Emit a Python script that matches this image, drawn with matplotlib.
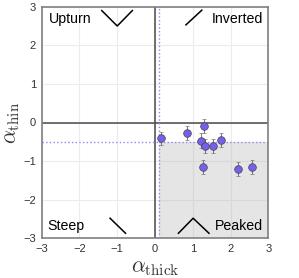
import matplotlib
matplotlib.use('Agg')
import matplotlib.pyplot as plt

plt.rcParams['font.family'] = ['Liberation Sans', 'DejaVu Sans']
plt.rcParams['mathtext.fontset'] = 'cm'

alpha_thick = [0.15, 0.84, 1.29, 1.21, 1.32, 1.54, 1.76, 1.27, 2.19, 2.57]
alpha_thin = [-0.41, -0.28, -0.08, -0.47, -0.60, -0.62, -0.46, -1.15, -1.21, -1.15]
thin_err = [0.17, 0.18, 0.18, 0.20, 0.18, 0.18, 0.18, 0.18, 0.18, 0.18]
thick_err = [0.04, 0.04, 0.04, 0.04, 0.04, 0.04, 0.04, 0.04, 0.04, 0.04]

# Quadrant sketches
upturn_x, upturn_y = [-1.41, -1.0, -0.6], [2.9, 2.5, 2.9]
inverted_x, inverted_y = [0.82, 1.24], [2.53, 2.91]
steep_x, steep_y = [-1.19, -0.78], [-2.48, -2.87]
peaked_x, peaked_y = [0.62, 1.01, 1.43], [-2.87, -2.48, -2.87]

ticks = [-3, -2, -1, 0, 1, 2, 3]
tick_labels = ['\u22123', '\u22122', '\u22121', '0', '1', '2', '3']

fig = plt.figure(figsize=(2.99, 2.78), dpi=100)
ax = fig.add_axes([41.7 / 299, 1 - 238.3 / 278, 226.6 / 299, 231.6 / 278])

ax.set_xlim(-3, 3)
ax.set_ylim(-3, 3)
ax.set_xticks(ticks)
ax.set_yticks(ticks)
ax.set_xticklabels(tick_labels)
ax.set_yticklabels(tick_labels)
ax.tick_params(labelsize=8, length=0, pad=4, labelcolor='#333333')
ax.grid(color='#ececec', linewidth=0.8)
ax.set_axisbelow(True)

for s in ax.spines.values():
    s.set_color('#808080')
    s.set_linewidth(1.2)

# Shaded region and limits
ax.fill_between([0.1, 3], -3, -0.5, color='#aaaaaa', alpha=0.3, linewidth=0, zorder=1)
ax.axhline(0, color='#4a4a4a', linewidth=1.1, zorder=2)
ax.axvline(0, color='#4a4a4a', linewidth=1.1, zorder=2)
ax.axhline(-0.5, color='#8f88f2', linestyle=':', linewidth=1.0, zorder=2)
ax.axvline(0.1, color='#8f88f2', linestyle=':', linewidth=1.0, zorder=2)

ax.errorbar(alpha_thick, alpha_thin, yerr=thin_err, xerr=thick_err, fmt='o',
            markersize=5.5, markerfacecolor='#7560ee', markeredgecolor='#444444',
            markeredgewidth=0.5, ecolor='#777777', elinewidth=0.7, capsize=1.5,
            capthick=0.7, zorder=3)

# Quadrant labels and shapes
ax.text(-2.82, 2.68, 'Upturn', fontsize=10.2, va='center', ha='left')
ax.text(2.85, 2.68, 'Inverted', fontsize=10.2, va='center', ha='right')
ax.text(-2.85, -2.68, 'Steep', fontsize=10.2, va='center', ha='left')
ax.text(2.85, -2.68, 'Peaked', fontsize=10.2, va='center', ha='right')
for xs, ys in [(upturn_x, upturn_y), (inverted_x, inverted_y), (steep_x, steep_y), (peaked_x, peaked_y)]:
    ax.plot(xs, ys, color='black', linewidth=1.1, zorder=4)

ax.set_xlabel(r'$\alpha_{\mathrm{thick}}$', fontsize=15.5, labelpad=2, color='#333333')
ax.set_ylabel(r'$\alpha_{\mathrm{thin}}$', fontsize=15.5, labelpad=1, color='#333333')

fig.savefig('out.png', dpi=100)
